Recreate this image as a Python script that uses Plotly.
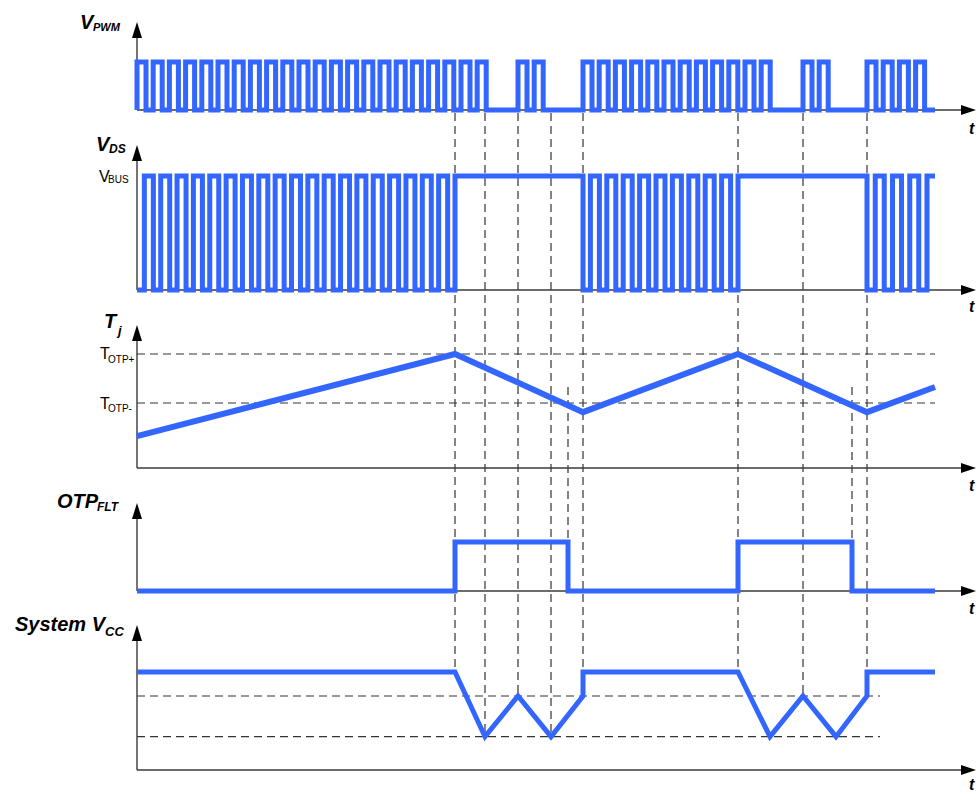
import plotly.graph_objects as go

W, H = 976, 793
X0 = 137                     # pixel column of the vertical axes (time 0)
BLUE = '#3366ff'
GRID = '#333333'
AXIS = '#3a3a3a'
FONT = 'Liberation Sans, Arial, sans-serif'

# ---------------- data (time in arbitrary units, 0 at the vertical axes) ----------------
t_stop = 798                          # last sample of every waveform
t_flt_on = [318, 601]                 # Tj reaches T_OTP+ -> OTP fault set
t_flt_off = [431, 715]                # Tj falls below T_OTP- -> fault cleared

# V_PWM bursts: (first rising edge, number of pulses)
pwm_bursts = [(0, 22), (381, 2), (446, 12), (666, 2), (730, 4)]
pwm_period, pwm_on = 16.2, 9

# V_DS switching windows: (start, end, pulses); outside them V_DS sits at V_BUS
vds_windows = [(0, 318, 19), (446, 601, 9), (730, 790, 3)]
vds_on = 9

# junction temperature, normalised to T_OTP+
tj_t = [0, 318, 446, 601, 730, 798]
tj = [0.28, 1.0, 0.49, 1.0, 0.49, 0.71]
T_OTP_HI, T_OTP_LO = 1.0, 0.57

# system Vcc, normalised to its nominal level
vcc_t = [0, 318, 348, 381, 414, 446, 446, 601, 633, 666, 699, 730, 730, 798]
vcc = [1, 1, 0.34, 0.755, 0.34, 0.755, 1, 1, 0.34, 0.755, 0.34, 0.755, 1, 1]
VCC_ON, VCC_OFF = 0.755, 0.34
t_vcc_dash_end = 743

# instants marked by the long dashed verticals
t_marks = [318, 348, 381, 414, 446, 601, 666, 730]


# ---------------- waveforms ----------------
def pwm_wave():
    xs, ys = [0], [0]
    for t0, n in pwm_bursts:
        for k in range(n):
            r = t0 + k * pwm_period
            xs += [r, r, r + pwm_on, r + pwm_on]
            ys += [0, 1, 1, 0]
    xs.append(t_stop)
    ys.append(0)
    return xs, ys


def vds_wave():
    xs, ys = [], []
    for a, b, n in vds_windows:
        if xs:
            xs += [a, a]
            ys += [1, 0]
        else:
            xs, ys = [a], [0]
        period = (b - a + vds_on) / (n + 1)
        for k in range(n):
            r = a + (period - vds_on) + k * period
            xs += [r, r, r + vds_on, r + vds_on]
            ys += [0, 1, 1, 0]
        xs += [b, b]
        ys += [0, 1]
    xs.append(t_stop)
    ys.append(1)
    return xs, ys


def otp_wave():
    xs, ys = [0], [0]
    for on, off in zip(t_flt_on, t_flt_off):
        xs += [on, on, off, off]
        ys += [0, 1, 1, 0]
    xs.append(t_stop)
    ys.append(0)
    return xs, ys


pwm_x, pwm_y = pwm_wave()
vds_x, vds_y = vds_wave()
otp_x, otp_y = otp_wave()

# ---------------- panel geometry (pixel rows) ----------------
panels = [
    dict(base=110, unit=48, tip=22, dom=(0, 130)),
    dict(base=290, unit=114, tip=145, dom=(130, 310)),
    dict(base=468, unit=114, tip=325, dom=(310, 490)),
    dict(base=591, unit=49, tip=503, dom=(490, 612)),
    dict(base=770, unit=98, tip=625, dom=(612, 793)),
]
t_label_rows = [128, 306, 486, 608, 784]


def pc(col):                 # pixel column -> paper x
    return col / W


def px(t):
    return pc(X0 + t)


def pp(row):                 # pixel row -> paper y
    return 1 - row / H


def py(i, v):
    p = panels[i]
    return pp(p['base'] - v * p['unit'])


fig = go.Figure()
series = [(pwm_x, pwm_y, 5), (vds_x, vds_y, 5), (tj_t, tj, 6), (otp_x, otp_y, 5), (vcc_t, vcc, 5)]
for i, (x, y, w) in enumerate(series):
    fig.add_trace(go.Scatter(x=x, y=y, mode='lines', xaxis='x',
                             yaxis='y' if i == 0 else f'y{i + 1}',
                             line=dict(color=BLUE, width=w),
                             hoverinfo='skip', showlegend=False))

layout = dict(
    width=W, height=H, margin=dict(l=0, r=0, t=0, b=0),
    plot_bgcolor='white', paper_bgcolor='white',
    xaxis=dict(range=[-X0, W - X0], domain=[0, 1], visible=False, fixedrange=True),
)
for i, p in enumerate(panels):
    top, bot = p['dom']
    layout['yaxis' if i == 0 else f'yaxis{i + 1}'] = dict(
        anchor='x', domain=[pp(bot), pp(top)], visible=False, fixedrange=True,
        range=[(p['base'] - bot) / p['unit'], (p['base'] - top) / p['unit']])
fig.update_layout(**layout)

shapes = []
dash = dict(color=GRID, width=1.2, dash='8px,5px')

# dashed guides (below the waveforms)
for t in t_marks:
    bottom = max(v for tt, v in zip(vcc_t, vcc) if tt == t)
    shapes.append(dict(type='line', xref='paper', yref='paper', layer='below',
                       x0=px(t), x1=px(t), y0=pp(113), y1=py(4, bottom), line=dash))
for t in t_flt_off:
    shapes.append(dict(type='line', xref='paper', yref='paper', layer='below',
                       x0=px(t), x1=px(t), y0=pp(387), y1=py(3, 0), line=dash))
for v in (T_OTP_HI, T_OTP_LO):
    shapes.append(dict(type='line', xref='paper', yref='paper', layer='below',
                       x0=px(0), x1=px(t_stop), y0=py(2, v), y1=py(2, v), line=dash))
for v in (VCC_ON, VCC_OFF):
    shapes.append(dict(type='line', xref='paper', yref='paper', layer='below',
                       x0=px(0), x1=px(t_vcc_dash_end), y0=py(4, v), y1=py(4, v), line=dash))

# axes with arrow heads
for i, p in enumerate(panels):
    yb = pp(p['base'])
    shapes.append(dict(type='line', xref='paper', yref='paper', layer='below',
                       x0=px(0), x1=px(0), y0=yb, y1=pp(p['tip'] + 12),
                       line=dict(color=AXIS, width=1.4)))
    shapes.append(dict(type='path', xref='paper', yref='paper',
                       path=f"M{px(-5)},{pp(p['tip'] + 16)} L{px(0)},{pp(p['tip'])} "
                            f"L{px(5)},{pp(p['tip'] + 16)} Z",
                       fillcolor='black', line=dict(width=0)))
    shapes.append(dict(type='line', xref='paper', yref='paper', layer='below',
                       x0=px(0), x1=pc(964), y0=yb, y1=yb,
                       line=dict(color=AXIS, width=1.4)))
    shapes.append(dict(type='path', xref='paper', yref='paper',
                       path=f"M{pc(961)},{pp(p['base'] - 5)} L{pc(976)},{yb} "
                            f"L{pc(961)},{pp(p['base'] + 5)} Z",
                       fillcolor='black', line=dict(width=0)))
fig.update_layout(shapes=shapes)

# ---------------- text ----------------
ann = []


def label(main, sub, x_main, x_sub, y_main, y_sub, size, sub_size, bold=True):
    fmt = (lambda s: f'<b><i>{s}</i></b>') if bold else (lambda s: s)
    ann.append(dict(text=fmt(main), x=pc(x_main), y=pp(y_main), xref='paper', yref='paper',
                    xanchor='right', yanchor='middle', showarrow=False, borderpad=0,
                    font=dict(family=FONT, size=size, color='black')))
    ann.append(dict(text=fmt(sub), x=pc(x_sub), y=pp(y_sub), xref='paper', yref='paper',
                    xanchor='left', yanchor='middle', showarrow=False, borderpad=0,
                    font=dict(family=FONT, size=sub_size, color='black')))


label('V', 'PWM', 96, 92, 22, 27, 20, 11)
label('V', 'DS', 112, 108, 144, 149, 20, 12)
label('T', 'j', 119, 115, 321, 330, 20, 13)
label('OTP', 'FLT', 100, 96, 501, 507, 20, 12)
label('System V', 'CC', 108, 104, 624, 631, 20, 13)
label('V', 'BUS', 111, 107, 176, 179, 16, 10, bold=False)
label('T', 'OTP+', 111, 107, 354, 359, 16, 10, bold=False)
label('T', 'OTP-', 111, 107, 403, 408, 16, 10, bold=False)

for row in t_label_rows:
    ann.append(dict(text='<b><i>t</i></b>', x=pc(976), y=pp(row), xref='paper',
                    yref='paper', xanchor='right', yanchor='middle', showarrow=False,
                    borderpad=0, font=dict(family=FONT, size=16, color='black')))

fig.update_layout(annotations=ann)

# drop the page's default 8px body margin so the 976x793 figure fills the window
fig.write_html("out.html", config={'displayModeBar': False},
               post_script="document.body.style.margin='0';")
